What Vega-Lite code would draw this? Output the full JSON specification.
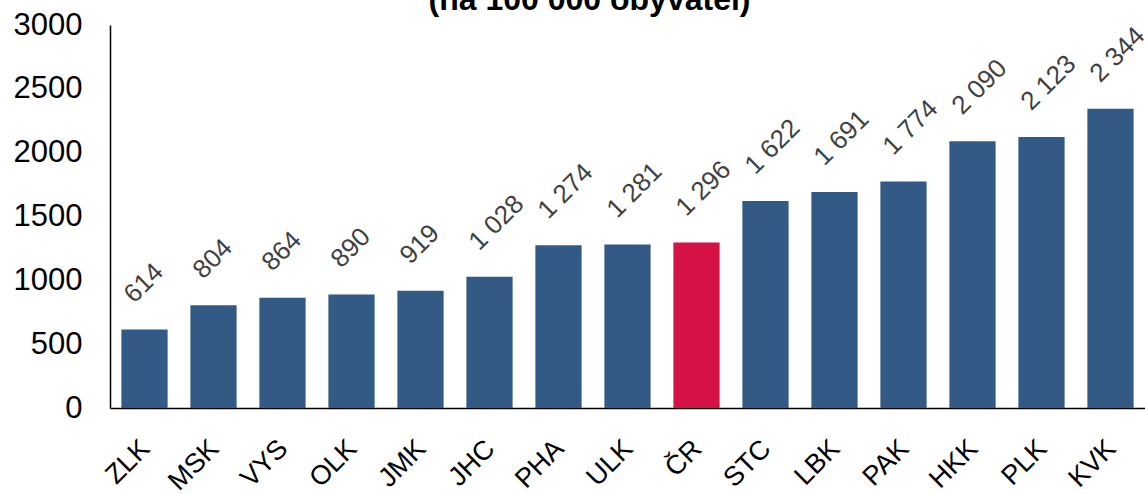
{
  "$schema": "https://vega.github.io/schema/vega-lite/v6.json",
  "autosize": "none",
  "width": 1035,
  "height": 383,
  "padding": {"left": 110, "top": 25, "right": 0, "bottom": 86},
  "background": "white",
  "title": {
    "text": "(na 100 000 obyvatel)",
    "anchor": "middle",
    "frame": "group",
    "dx": -38,
    "offset": -8,
    "font": "Liberation Sans",
    "fontSize": 32,
    "fontWeight": "bold",
    "color": "black"
  },
  "config": {
    "view": {"stroke": null},
    "locale": {"number": {"decimal": ",", "thousands": " ", "grouping": [3], "currency": ["", " Kč"]}}
  },
  "data": {
    "values": [
      {"kraj": "ZLK", "hodnota": 614},
      {"kraj": "MSK", "hodnota": 804},
      {"kraj": "VYS", "hodnota": 864},
      {"kraj": "OLK", "hodnota": 890},
      {"kraj": "JMK", "hodnota": 919},
      {"kraj": "JHC", "hodnota": 1028},
      {"kraj": "PHA", "hodnota": 1274},
      {"kraj": "ULK", "hodnota": 1281},
      {"kraj": "ČR", "hodnota": 1296},
      {"kraj": "STC", "hodnota": 1622},
      {"kraj": "LBK", "hodnota": 1691},
      {"kraj": "PAK", "hodnota": 1774},
      {"kraj": "HKK", "hodnota": 2090},
      {"kraj": "PLK", "hodnota": 2123},
      {"kraj": "KVK", "hodnota": 2344}
    ]
  },
  "encoding": {
    "x": {
      "field": "kraj", "type": "nominal", "sort": null,
      "scale": {"paddingInner": 0.33, "paddingOuter": 0.165},
      "axis": {
        "title": null, "ticks": false, "domainColor": "black", "domainWidth": 1.5,
        "labelAngle": -45, "labelAlign": "right", "labelBaseline": "top",
        "labelPadding": 27, "labelFont": "Liberation Sans", "labelFontSize": 27,
        "labelColor": "black", "labelOffset": -8
      }
    },
    "y": {
      "field": "hodnota", "type": "quantitative",
      "scale": {"domain": [0, 3000], "nice": false},
      "axis": {
        "title": null, "ticks": false, "grid": false, "values": [0, 500, 1000, 1500, 2000, 2500, 3000],
        "format": "d", "domainColor": "black", "domainWidth": 1.5,
        "labelPadding": 28, "labelFont": "Liberation Sans", "labelFontSize": 31,
        "labelColor": "black"
      }
    }
  },
  "layer": [
    {
      "mark": {"type": "bar"},
      "encoding": {
        "color": {
          "condition": {"test": "datum.kraj === 'ČR'", "value": "#d41245"},
          "value": "#325a84"
        }
      }
    },
    {
      "mark": {
        "type": "text", "angle": -45, "align": "left", "baseline": "middle",
        "xOffset": -16, "yOffset": -31,
        "font": "Liberation Sans", "fontSize": 26, "color": "#404040"
      },
      "encoding": {
        "text": {"field": "hodnota", "type": "quantitative", "format": ",d"}
      }
    }
  ]
}
